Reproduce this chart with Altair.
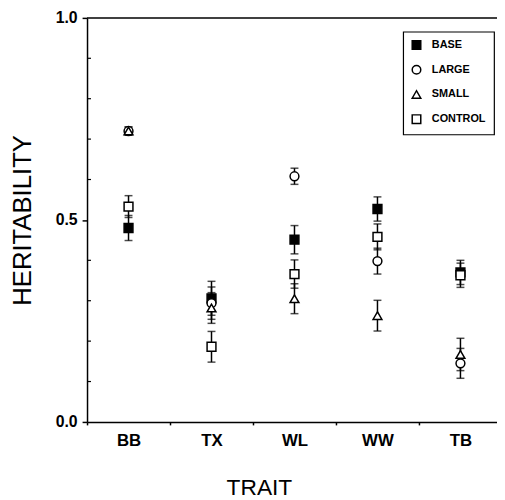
import altair as alt
import pandas as pd

traits = ["BB", "TX", "WL", "WW", "TB"]
series = ["BASE", "LARGE", "SMALL", "CONTROL"]

base_val = [0.480, 0.306, 0.451, 0.527, 0.370]
base_err = [0.031, 0.042, 0.035, 0.030, 0.030]
large_val = [0.720, 0.294, 0.608, 0.398, 0.145]
large_err = [0.010, 0.040, 0.020, 0.032, 0.037]
small_val = [0.720, 0.282, 0.305, 0.263, 0.167]
small_err = [0.010, 0.038, 0.037, 0.038, 0.040]
control_val = [0.533, 0.186, 0.366, 0.458, 0.363]
control_err = [0.027, 0.038, 0.035, 0.032, 0.030]

minor_ticks = [0.1, 0.2, 0.3, 0.4, 0.6, 0.7, 0.8, 0.9]

rows = []
for name, vals, errs in [("BASE", base_val, base_err), ("LARGE", large_val, large_err),
                         ("SMALL", small_val, small_err), ("CONTROL", control_val, control_err)]:
    for t, v, e in zip(traits, vals, errs):
        rows.append({"trait": t, "series": name, "value": v, "lo": v - e, "hi": v + e})
df = pd.DataFrame(rows)
minor_df = pd.DataFrame({"value": minor_ticks})

YT = "HERITABILITY"
xscale = alt.Scale(domain=traits, range=[0, 420], paddingInner=0, paddingOuter=0)
xenc = alt.X("trait:N", sort=traits, scale=xscale,
             axis=alt.Axis(title="TRAIT", tickBand="extent", tickSize=3, tickWidth=1.5,
                           labelAngle=0, labelFontWeight="bold", labelFontSize=17,
                           labelPadding=8, titleFontSize=23, titleFontWeight="normal",
                           titlePadding=28, titleX=174, domainWidth=1.5, domainColor="black",
                           tickColor="black", labelColor="black", titleColor="black"))
yscale = alt.Scale(domain=[0, 1], nice=False, zero=False)
yaxis = alt.Axis(title=YT, values=[0, 0.5, 1.0], format=".1f", tickSize=5, tickWidth=1.5,
                 labelFontSize=16, labelFontWeight="bold", labelPadding=5,
                 titleFontSize=26, titleFontWeight="normal",
                 titlePadding=20, domainWidth=1.5, domainColor="black", tickColor="black",
                 labelColor="black", titleColor="black", grid=False)

base = alt.Chart(df)

bars = base.mark_rule(color="black", strokeWidth=1.5).encode(
    x=xenc,
    y=alt.Y("lo:Q", scale=yscale, axis=yaxis, title=YT),
    y2="hi:Q",
)
caps_lo = base.mark_tick(color="black", size=8, thickness=1.5).encode(
    x=xenc, y=alt.Y("lo:Q", scale=yscale, title=YT))
caps_hi = base.mark_tick(color="black", size=8, thickness=1.5).encode(
    x=xenc, y=alt.Y("hi:Q", scale=yscale, title=YT))

points = base.mark_point(filled=True, strokeWidth=1.5, size=80, opacity=1).encode(
    x=xenc,
    y=alt.Y("value:Q", scale=yscale, title=YT),
    fill=alt.Fill("series:N", sort=series,
                  scale=alt.Scale(domain=series, range=["black", "white", "white", "white"]),
                  legend=alt.Legend(title=None)),
    stroke=alt.Stroke("series:N", sort=series,
                      scale=alt.Scale(domain=series, range=["black", "black", "black", "black"]),
                      legend=alt.Legend(title=None)),
    shape=alt.Shape("series:N", sort=series,
                    scale=alt.Scale(domain=series, range=["square", "circle", "triangle-up", "square"]),
                    legend=alt.Legend(title=None)),
)

minor = alt.Chart(minor_df).mark_rule(color="black", strokeWidth=1.2).encode(
    y=alt.Y("value:Q", scale=yscale, title=YT),
    x=alt.value(0), x2=alt.value(4),
)

top = alt.Chart(pd.DataFrame({"value": [1.0]})).mark_rule(color="black", strokeWidth=1.5).encode(
    y=alt.Y("value:Q", scale=yscale, title=YT),
    x=alt.value(0), x2=alt.value(420),
)

chart = alt.layer(minor, top, bars, caps_lo, caps_hi, points).properties(
    width=415, height=409,
    autosize=alt.AutoSizeParams(type="none"),
    padding={"left": 80, "top": 7, "right": 0, "bottom": 75},
).configure(
    font="Liberation Sans",
).configure_view(
    stroke=None,
).configure_legend(
    orient="none", legendX=320, legendY=14,
    strokeColor="black", strokeWidth=1.2, fillColor="white",
    padding=8, rowPadding=10, labelFontSize=11, labelFontWeight="bold",
    labelColor="black", symbolSize=75, symbolStrokeWidth=1.5, symbolStrokeColor="black",
    labelOffset=10, cornerRadius=0,
)

chart.save("out.html", embed_options={"renderer": "svg", "actions": False})
